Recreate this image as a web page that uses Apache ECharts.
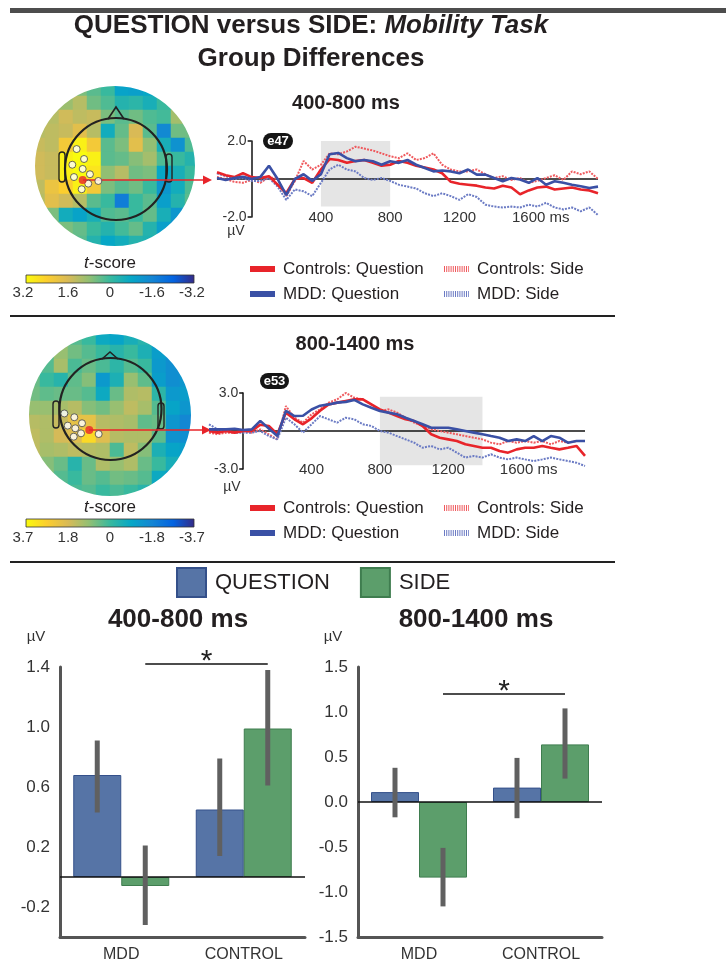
<!DOCTYPE html>
<html><head><meta charset="utf-8">
<script src="https://cdn.jsdelivr.net/npm/echarts@6/dist/echarts.min.js"></script>
<style>html,body{margin:0;padding:0;background:#fff;}#c{width:726px;height:964px;}</style>
</head><body><div id="c"></div>
<script>
// ---------------- DATA ----------------
const times = [-200,-150,-100,-50,0,50,100,150,200,250,300,350,400,450,500,550,600,650,700,750,800,850,900,950,1000,1050,1100,1150,1200,1250,1300,1350,1400,1450,1500,1550,1600,1650,1700,1750,1800,1850,1900,1950,2000];
const waveXTicks = [400, 800, 1200, 1600];
const seriesNames = ['Controls: Question', 'Controls: Side', 'MDD: Question', 'MDD: Side'];

// e47, 400-800 ms window
const w1CtrlQ = [0.35,0.2,0.1,0.3,0.1, 0.05,0.15,-0.3,-0.75,0.0, 0.05,-0.2,0.5,1.05,1.0, 0.85,0.95,1.0,0.85,0.7, 0.75,0.95,0.85,0.7,0.6, 0.5,0.3,-0.15,-0.25,-0.3, -0.35,-0.45,-0.5,-0.35,-0.45, -0.8,-0.6,-0.45,-0.4,-0.55, -0.5,-0.45,-0.55,-0.6,-0.75];
const w1CtrlS = [0.1,0.0,-0.15,-0.2,-0.05, -0.2,0.1,0.0,-0.9,-0.1, 0.95,0.5,0.75,1.35,1.3, 1.45,1.7,1.6,1.5,1.35, 1.2,1.1,1.35,1.0,1.1, 1.35,0.75,0.5,0.4,0.4, 0.5,0.25,0.05,0.15,-0.05, 0.05,-0.2,-0.1,0.05,0.2, -0.05,0.4,0.25,0.4,0.0];
const w1MddQ = [0.05,-0.05,0.05,0.12,0.0, 0.1,0.7,0.0,-0.85,0.0, 0.25,-0.1,0.25,1.3,1.37, 1.1,0.93,1.0,0.93,0.75, 0.93,0.85,1.0,0.75,0.58, 0.4,0.45,0.4,0.3,0.5, 0.23,0.23,0.05,-0.12,0.05, -0.03,-0.2,0.05,-0.3,-0.12, -0.2,-0.3,-0.38,-0.47,-0.4];
const w1MddS = [0.3,0.15,0.0,0.05,-0.1, -0.1,0.05,-0.4,-1.1,-0.55, -0.65,-0.9,-0.2,0.5,0.75, 0.5,0.4,0.05,-0.05,0.05, -0.1,-0.3,-0.4,-0.5,-0.75, -0.9,-0.75,-0.9,-1.1,-0.8, -0.95,-1.35,-1.45,-1.5,-1.45, -1.5,-1.35,-1.45,-1.25,-1.5, -1.6,-1.5,-1.7,-1.5,-1.9];

// e53, 800-1400 ms window
const w2CtrlQ = [0,-0.13,0,-0.13,0, 0,0.5,0.4,-0.26,1.45, 0.92,0.53,1.0,1.6,2.1, 2.24,2.37,2.5,2.5,2.1, 1.71,1.45,1.18,0.92,0.79, 0.39,-0.26,-0.53,-0.66,-0.79, -1.05,-1.18,-1.32,-1.32,-1.58, -1.71,-1.45,-1.32,-1.32,-1.18, -1.32,-1.45,-1.32,-1.18,-1.97];
const w2CtrlS = [-0.13,-0.26,-0.13,-0.13,0, -0.13,0.13,-0.26,-0.66,1.97, 1.05,0.66,1.32,1.71,2.24, 2.5,3.0,2.63,2.5,2.1, 1.58,1.71,1.45,1.05,0.66, 0.39,0.13,0,-0.13,-0.26, -0.4,-0.53,-0.66,-0.92,-1.05, -0.79,-0.92,-0.79,-0.92,-0.79, -1.05,-0.79,-0.92,-0.79,-0.79];
const w2MddQ = [0.13,0.13,0.13,0.18,0.08, 0.13,0.8,0.2,-0.4,1.6, 1.18,1.2,1.7,2.0,2.1, 2.24,2.3,2.45,2.1,1.84, 1.58,1.45,1.32,1.05,0.79, 0.53,0.26,0.26,0.26,0.13, 0.0,-0.13,-0.26,-0.4,-0.53, -0.79,-0.66,-0.79,-0.4,-0.79, -0.4,-0.53,-0.92,-0.79,-0.79];
const w2MddS = [0.53,0.13,0,-0.13,-0.13, -0.13,0,-0.4,-0.66,1.05, 0.53,-0.13,0.53,1.18,0.92, 0.66,1.05,0.92,0.53,0.4, 0,-0.13,-0.4,-0.66,-0.92, -1.32,-1.18,-1.45,-1.32,-1.71, -2.1,-1.97,-2.1,-1.84,-2.1, -2.24,-2.1,-2.24,-2.37,-2.24, -2.1,-2.24,-2.37,-2.5,-2.76];

// topographic t-score maps (12 x 12 cells, rows top -> bottom)
const map1 = [
 [0.3,0.3,0.5,0.6,0.3,0.0,-0.9,-1.0,-0.8,-0.3,0.2,0.3],
 [0.8,0.8,0.9,1.2,0.5,0.2,-0.3,-0.2,-0.5,0.0,0.6,0.5],
 [1.0,1.2,1.5,1.3,1.4,0.6,0.3,0.5,0.2,0.1,1.0,0.8],
 [1.2,1.3,1.4,1.8,1.2,-0.6,0.4,1.6,0.3,-1.5,0.5,0.5],
 [1.4,1.3,2.2,3.0,2.2,0.3,0.6,1.8,0.8,-0.5,-1.3,0.2],
 [1.5,1.4,3.0,3.2,3.0,0.3,0.4,0.7,1.0,0.2,0.0,-0.3],
 [1.5,1.4,3.0,3.2,2.8,0.8,1.2,0.5,0.6,-0.8,-0.5,0.0],
 [1.3,2.0,2.4,3.0,2.2,0.6,0.3,0.5,0.0,-1.2,-0.6,0.2],
 [1.2,1.8,1.5,1.2,0.3,0.0,-1.8,0.0,0.3,-1.0,-0.3,0.3],
 [0.8,0.6,-0.6,-0.9,-0.5,0.2,0.3,0.0,0.4,-0.5,-1.2,-0.8],
 [0.5,0.4,0.6,0.4,0.0,-0.3,0.1,0.4,-0.3,-1.0,-1.4,-1.0],
 [0.4,0.4,0.2,0.3,-0.3,-0.8,-0.6,-0.3,-0.4,-1.2,-1.2,-1.0]
];
const map2 = [
 [0.3,0.3,0.4,0.3,0.0,-0.8,-1.0,-0.6,-0.3,-0.8,-1.0,-0.8],
 [0.5,0.4,1.0,0.6,0.3,0.0,-0.3,0.0,-0.5,-1.2,-1.5,-1.2],
 [0.4,0.3,1.2,0.2,0.5,0.2,-0.2,0.3,0.0,-1.3,-1.6,-1.5],
 [0.5,0.0,-0.3,0.4,0.8,-1.3,-0.5,1.0,0.4,-1.2,-1.6,-1.4],
 [0.6,0.4,0.5,0.5,0.3,-0.8,0.5,1.3,1.4,-0.2,-1.3,-1.2],
 [1.0,1.0,1.2,1.4,0.8,0.6,1.0,1.5,1.2,0.3,-1.0,-1.4],
 [1.4,1.3,1.6,2.2,2.2,1.4,1.3,1.2,0.4,0.5,-1.4,-1.8],
 [1.5,1.3,1.8,2.0,3.0,2.0,1.4,1.3,1.3,0.4,-1.5,-1.6],
 [1.5,1.2,1.3,1.5,1.4,1.3,0.2,1.5,0.8,-0.5,-1.0,-1.2],
 [1.2,0.8,0.5,-0.3,0.5,1.3,1.0,1.3,0.5,0.0,-0.6,-1.0],
 [1.0,0.8,0.3,0.0,0.5,0.3,0.6,0.5,0.3,-0.8,-1.2,-1.3],
 [0.8,0.6,0.3,0.2,0.3,0.0,0.2,0.0,-0.3,-1.0,-1.2,-1.0]
];
// electrode cluster positions (cell units) and the plotted electrode
const elec1 = [[3.26,4.79],[3.79,5.5],[2.95,5.91],[3.69,6.21],[4.21,6.59],[3.07,6.79],[4.09,7.26],[4.81,7.07],[3.62,7.66]];
const mark1 = [[3.69,7.0]];
const elec2 = [[2.74,5.89],[3.45,6.16],[2.98,6.76],[3.52,6.95],[4.0,6.59],[3.93,7.31],[3.41,7.55],[5.19,7.36]];
const mark2 = [[4.52,7.07]];
const cbTicks1 = ['3.2','1.6','0','-1.6','-3.2'];
const cbTicks2 = ['3.7','1.8','0','-1.8','-3.7'];

// bar charts
const groups = ['MDD', 'CONTROL'];
const b1Question = [0.68, 0.45];
const b1Side = [-0.06, 0.99];
const b1QLow = [0.43, 0.14], b1QHigh = [0.91, 0.79];
const b1SLow = [-0.32, 0.61], b1SHigh = [0.21, 1.38];
const b1Ticks = [-0.2, 0.2, 0.6, 1.0, 1.4];
const b1Sig = 1.42;
const b2Question = [0.11, 0.16];
const b2Side = [-0.84, 0.64];
const b2QLow = [-0.17, -0.18], b2QHigh = [0.38, 0.49];
const b2SLow = [-1.16, 0.26], b2SHigh = [-0.51, 1.04];
const b2Sig = 1.2;

// ---------------- STYLE ----------------
const FF = "'Liberation Sans', Arial, Helvetica, sans-serif";
const INK = '#231f20';
const RED = '#e8242a', BLUE = '#3a50a5', RED_D = '#ef5a5e', BLUE_D = '#6b7bc4';
const QCOL = '#5674a6', SCOL = '#5c9e6b';
const parula = ['#352a87','#0363e1','#1485d4','#06a7c6','#38b99e','#92bf73','#d9ba56','#fcce2e','#f9fb0e'];
const BAR_W = 48;

function heatData(m) {
  const d = [];
  m.forEach((row, r) => row.forEach((v, c) => d.push([c, r, v])));
  return d;
}
const idx12 = Array.from({length: 12}, (_, i) => i);

function txt(x, y, text, size, extra) {
  return {type: 'text', z: 20, silent: true,
    style: Object.assign({x, y, text, fontSize: size, fontFamily: FF, fill: INK, align: 'center', verticalAlign: 'middle'}, extra || {})};
}

// ---------- grids / axes ----------
const W1 = {left: 217, top: 141, width: 381, height: 76};
const W2 = {left: 209, top: 393, width: 376, height: 76};
const T0 = -200, T1 = 2000;
const grids = [
  {left: 31, top: 82, width: 168, height: 168},
  {left: 31, top: 82, width: 168, height: 168},
  {left: 26, top: 331, width: 168, height: 168},
  {left: 26, top: 331, width: 168, height: 168},
  W1, W2,
  {left: 60, top: 667, width: 245, height: 270},
  {left: 358, top: 667, width: 244, height: 270}
];
function waveX(g) {
  return {type: 'value', gridIndex: g, min: T0, max: T1, z: 10,
    axisLine: {show: false, onZero: false}, axisTick: {show: false}, splitLine: {show: false},
    axisLabel: {customValues: waveXTicks, margin: -7, fontSize: 15, color: '#333', fontFamily: FF,
      formatter: v => v === 1600 ? '{p|}1600 ms' : String(v), rich: {p: {width: 24}}}};
}
function waveY(g, lim, gr) {
  // place the vertical axis at t = 0 ms
  const off = -(gr.width * (0 - T0) / (T1 - T0));
  return {type: 'value', gridIndex: g, min: -lim, max: lim, z: 10, position: 'left', offset: off,
    axisLine: {show: true, onZero: false, lineStyle: {color: '#111', width: 1.5}},
    axisTick: {show: true, length: 4, customValues: [-lim, lim], lineStyle: {color: '#111', width: 1.5}},
    splitLine: {show: false},
    axisLabel: {customValues: [-lim, lim], formatter: v => v.toFixed(1), fontSize: 14, color: '#333', margin: 5, fontFamily: FF}};
}
function barX(g) {
  return {type: 'category', gridIndex: g, data: groups,
    axisLine: {onZero: false, lineStyle: {color: '#555', width: 3}}, axisTick: {show: false},
    axisLabel: {fontSize: 16, color: '#333', margin: 10, fontFamily: FF}};
}
function barY(g, min, max, extra) {
  return Object.assign({type: 'value', gridIndex: g, min, max,
    axisLine: {show: true, lineStyle: {color: '#555', width: 3}}, axisTick: {show: false}, splitLine: {show: false},
    axisLabel: {formatter: v => v.toFixed(1), fontSize: 17, color: '#333', margin: 10, fontFamily: FF}}, extra || {});
}

const xAxes = [
  {type: 'category', gridIndex: 0, data: idx12, show: false},
  {type: 'value', gridIndex: 1, min: 0, max: 12, show: false},
  {type: 'category', gridIndex: 2, data: idx12, show: false},
  {type: 'value', gridIndex: 3, min: 0, max: 12, show: false},
  waveX(4), waveX(5), barX(6), barX(7)
];
const b1Y = barY(6, -0.4, 1.4);
b1Y.axisLabel.customValues = b1Ticks;
const yAxes = [
  {type: 'category', gridIndex: 0, data: idx12, inverse: true, show: false},
  {type: 'value', gridIndex: 1, min: 0, max: 12, inverse: true, show: false},
  {type: 'category', gridIndex: 2, data: idx12, inverse: true, show: false},
  {type: 'value', gridIndex: 3, min: 0, max: 12, inverse: true, show: false},
  waveY(4, 2, W1), waveY(5, 3, W2), b1Y, barY(7, -1.5, 1.5, {interval: 0.5})
];

// ---------- series ----------
function elecSeries(ax, data) {
  return {type: 'scatter', xAxisIndex: ax, yAxisIndex: ax, data, symbolSize: 7, z: 8, silent: true,
    itemStyle: {color: '#fff', borderColor: '#444', borderWidth: 1}};
}
function markSeries(ax, data) {
  return {type: 'scatter', xAxisIndex: ax, yAxisIndex: ax, data, symbolSize: 8, z: 9, silent: true,
    itemStyle: {color: RED}};
}
function waveLine(ax, name, arr, color, width, dash) {
  return {type: 'line', name, xAxisIndex: ax, yAxisIndex: ax, data: times.map((t, i) => [t, arr[i]]),
    symbol: 'none', showSymbol: false, z: 10, silent: true,
    lineStyle: {color, width, type: dash || 'solid'}};
}
function waveBox(ax, x0, x1, yTop, yBot) {
  return {type: 'line', xAxisIndex: ax, yAxisIndex: ax, data: [[0, 0]], symbol: 'none', z: 2, silent: true,
    lineStyle: {opacity: 0},
    markArea: {silent: true, itemStyle: {color: '#e5e5e5'}, data: [[{xAxis: x0, yAxis: yTop}, {xAxis: x1, yAxis: yBot}]]}};
}
function waveZero(ax) {
  return {type: 'line', xAxisIndex: ax, yAxisIndex: ax, data: [[0, 0]], symbol: 'none', z: 9, silent: true,
    lineStyle: {opacity: 0},
    markLine: {silent: true, symbol: 'none', label: {show: false}, lineStyle: {color: '#111', width: 1.5, type: 'solid'}, data: [{yAxis: 0}]}};
}
function barSeries(ax, name, vals, color, border, zeroLine) {
  const s = {type: 'bar', name, xAxisIndex: ax, yAxisIndex: ax, data: vals, barWidth: BAR_W, barGap: '0%', z: 4, silent: true,
    itemStyle: {color, borderColor: border, borderWidth: 1}};
  if (zeroLine) s.markLine = {silent: true, symbol: 'none', label: {show: false}, lineStyle: {color: '#111', width: 1.5, type: 'solid'}, data: [{yAxis: 0}]};
  return s;
}
function errSeries(ax, qLo, qHi, sLo, sHi) {
  const data = [];
  for (let i = 0; i < groups.length; i++) {
    data.push([i, qLo[i], qHi[i], -1]);
    data.push([i, sLo[i], sHi[i], 1]);
  }
  return {type: 'custom', xAxisIndex: ax, yAxisIndex: ax, data, z: 6, silent: true, encode: {x: 0, y: [1, 2]},
    renderItem: (p, api) => {
      const a = api.coord([api.value(0), api.value(1)]);
      const b = api.coord([api.value(0), api.value(2)]);
      const dx = api.value(3) * BAR_W / 2;
      return {type: 'line', shape: {x1: a[0] + dx, y1: a[1], x2: a[0] + dx, y2: b[1]},
        style: {stroke: '#606060', lineWidth: 5}};
    }};
}
function sigSeries(ax, level) {
  return {type: 'custom', xAxisIndex: ax, yAxisIndex: ax, data: [[0, 1, level]], z: 6, silent: true, encode: {x: [0, 1], y: 2},
    renderItem: (p, api) => {
      const a = api.coord([api.value(0), api.value(2)]);
      const b = api.coord([api.value(1), api.value(2)]);
      const x1 = a[0] + BAR_W / 2, x2 = b[0] + BAR_W / 2;
      return {type: 'group', children: [
        {type: 'line', shape: {x1, y1: a[1], x2, y2: a[1]}, style: {stroke: '#111', lineWidth: 1.5}},
        {type: 'text', style: {text: '*', x: (x1 + x2) / 2, y: a[1] - 2, fontSize: 30, fontFamily: FF, fill: '#222', align: 'center', verticalAlign: 'middle'}}
      ]};
    }};
}

const series = [
  {type: 'heatmap', xAxisIndex: 0, yAxisIndex: 0, data: heatData(map1), z: 1, silent: true, itemStyle: {borderWidth: 0}},
  elecSeries(1, elec1), markSeries(1, mark1),
  {type: 'heatmap', xAxisIndex: 2, yAxisIndex: 2, data: heatData(map2), z: 1, silent: true, itemStyle: {borderWidth: 0}},
  elecSeries(3, elec2), markSeries(3, mark2),
  waveBox(4, 400, 800, 2.0, -1.45), waveZero(4),
  waveLine(4, seriesNames[1], w1CtrlS, RED_D, 2, [2, 1.2]),
  waveLine(4, seriesNames[3], w1MddS, BLUE_D, 2, [2, 1.2]),
  waveLine(4, seriesNames[0], w1CtrlQ, RED, 2.6),
  waveLine(4, seriesNames[2], w1MddQ, BLUE, 2.6),
  waveBox(5, 800, 1400, 2.7, -2.7), waveZero(5),
  waveLine(5, seriesNames[1], w2CtrlS, RED_D, 2, [2, 1.2]),
  waveLine(5, seriesNames[3], w2MddS, BLUE_D, 2, [2, 1.2]),
  waveLine(5, seriesNames[0], w2CtrlQ, RED, 2.6),
  waveLine(5, seriesNames[2], w2MddQ, BLUE, 2.6),
  barSeries(6, 'QUESTION', b1Question, QCOL, '#34508a', true),
  barSeries(6, 'SIDE', b1Side, SCOL, '#3f7d4f'),
  errSeries(6, b1QLow, b1QHigh, b1SLow, b1SHigh), sigSeries(6, b1Sig),
  barSeries(7, 'QUESTION', b2Question, QCOL, '#34508a', true),
  barSeries(7, 'SIDE', b2Side, SCOL, '#3f7d4f'),
  errSeries(7, b2QLow, b2QHigh, b2SLow, b2SHigh), sigSeries(7, b2Sig)
];

// ---------- decorations ----------
function head(cx, cy, r, nose, earL, earR) {
  return [
    {type: 'circle', z: 7, silent: true, shape: {cx, cy, r}, style: {fill: 'none', stroke: '#222', lineWidth: 2.2}},
    {type: 'polyline', z: 7, silent: true, shape: {points: nose}, style: {fill: 'none', stroke: '#222', lineWidth: 1.6}},
    {type: 'rect', z: 7, silent: true, shape: Object.assign({r: 3}, earL), style: {fill: 'none', stroke: '#222', lineWidth: 1.4}},
    {type: 'rect', z: 7, silent: true, shape: Object.assign({r: 3}, earR), style: {fill: 'none', stroke: '#222', lineWidth: 1.4}}
  ];
}
function arrow(x0, y, x1) {
  return [
    {type: 'line', z: 8, silent: true, shape: {x1: x0, y1: y, x2: x1, y2: y}, style: {stroke: RED, lineWidth: 1.5}},
    {type: 'polygon', z: 8, silent: true, shape: {points: [[x1 - 1, y - 4.5], [x1 + 8, y], [x1 - 1, y + 4.5]]}, style: {fill: RED}}
  ];
}
function colorbar(x, y, w, labels, ly) {
  const stops = parula.slice().reverse().map((c, i, a) => ({offset: i / (a.length - 1), color: c}));
  const els = [
    {type: 'rect', z: 20, silent: true, shape: {x, y, width: w, height: 8},
      style: {fill: new echarts.graphic.LinearGradient(0, 0, 1, 0, stops), stroke: '#333', lineWidth: 0.8}}
  ];
  labels.forEach((l, i) => els.push(txt(x + w * i / (labels.length - 1) - (i === 0 ? 3 : 0) - (i === labels.length - 1 ? 2 : 0), ly, l, 15, {fill: '#333'})));
  return els;
}
function tscore(x, y) {
  return {type: 'text', z: 20, silent: true, style: {x, y, text: '{i|t}{n|-score}', align: 'center', verticalAlign: 'middle',
    rich: {i: {fontSize: 17, fontStyle: 'italic', fontFamily: FF, fill: INK}, n: {fontSize: 17, fontFamily: FF, fill: INK}}}};
}
function badge(x, y, w, label) {
  return [
    {type: 'rect', z: 20, silent: true, shape: {x, y, width: w, height: 16, r: 8}, style: {fill: '#151515'}},
    txt(x + w / 2, y + 8.5, label, 13, {fill: '#fff', fontWeight: 'bold'})
  ];
}
function waveLegend(y1, y2) {
  const items = [
    {x: 250, y: y1, c: RED, dash: false, t: seriesNames[0]},
    {x: 444, y: y1, c: RED_D, dash: true, t: seriesNames[1]},
    {x: 250, y: y2, c: BLUE, dash: false, t: seriesNames[2]},
    {x: 444, y: y2, c: BLUE_D, dash: true, t: seriesNames[3]}
  ];
  const els = [];
  items.forEach(it => {
    if (it.dash) {
      els.push({type: 'line', z: 20, silent: true, shape: {x1: it.x, y1: it.y, x2: it.x + 25, y2: it.y},
        style: {stroke: it.c, lineWidth: 6, lineDash: [1, 1.2]}});
    } else {
      els.push({type: 'rect', z: 20, silent: true, shape: {x: it.x, y: it.y - 3, width: 25, height: 6}, style: {fill: it.c}});
    }
    els.push(txt(it.x + 33, it.y, it.t, 17, {align: 'left'}));
  });
  return els;
}

const graphics = [].concat(
  [{type: 'rect', z: 20, silent: true, shape: {x: 10, y: 8, width: 716, height: 5}, style: {fill: '#4d4d4d'}}],
  [{type: 'text', z: 20, silent: true, style: {x: 311, y: 26, text: '{a|QUESTION versus SIDE: }{b|Mobility Task}', align: 'center', verticalAlign: 'middle',
    rich: {a: {fontSize: 26, fontWeight: 'bold', fontFamily: FF, fill: INK}, b: {fontSize: 26, fontWeight: 'bold', fontStyle: 'italic', fontFamily: FF, fill: INK}}}}],
  [txt(311, 59, 'Group Differences', 26, {fontWeight: 'bold'})],
  // topomap masks
  [{type: 'ring', z: 3, silent: true, shape: {cx: 115, cy: 166, r: 124, r0: 80}, style: {fill: '#fff'}},
   {type: 'ring', z: 3, silent: true, shape: {cx: 110, cy: 415, r: 124, r0: 81}, style: {fill: '#fff'}}],
  head(116, 169, 51, [[108, 119], [116, 107], [124, 119]], {x: 59, y: 152, width: 6, height: 30}, {x: 166, y: 154, width: 6, height: 28}),
  head(110.5, 409, 51, [[102, 359], [110, 352], [118, 359]], {x: 53, y: 401, width: 6, height: 27}, {x: 158, y: 403, width: 6, height: 26}),
  arrow(83, 180, 204), arrow(89, 430, 203),
  colorbar(26, 275, 168, cbTicks1, 293), colorbar(26, 519, 168, cbTicks2, 538),
  [tscore(110, 263), tscore(110, 507)],
  [txt(346, 103, '400-800 ms', 20, {fontWeight: 'bold'}), txt(355, 344, '800-1400 ms', 20, {fontWeight: 'bold'})],
  badge(263, 133, 30, 'e47'), badge(260, 373, 29, 'e53'),
  [txt(236, 231, 'µV', 14, {fill: '#333'}), txt(232, 487, 'µV', 14, {fill: '#333'})],
  waveLegend(269, 294), waveLegend(508, 533),
  [{type: 'line', z: 20, silent: true, shape: {x1: 10, y1: 316, x2: 615, y2: 316}, style: {stroke: '#222', lineWidth: 2}},
   {type: 'line', z: 20, silent: true, shape: {x1: 10, y1: 562, x2: 615, y2: 562}, style: {stroke: '#222', lineWidth: 2}}],
  [txt(178, 620, '400-800 ms', 26, {fontWeight: 'bold'}), txt(476, 620, '800-1400 ms', 26, {fontWeight: 'bold'})],
  [txt(36, 637, 'µV', 15, {fill: '#333'}), txt(333, 637, 'µV', 15, {fill: '#333'})]
);

const option = {
  animation: false,
  backgroundColor: '#fff',
  textStyle: {fontFamily: FF},
  grid: grids,
  xAxis: xAxes,
  yAxis: yAxes,
  visualMap: [
    {type: 'continuous', show: false, seriesIndex: 0, dimension: 2, min: -3.2, max: 3.2, inRange: {color: parula}},
    {type: 'continuous', show: false, seriesIndex: 3, dimension: 2, min: -3.7, max: 3.7, inRange: {color: parula}}
  ],
  legend: {data: ['QUESTION', 'SIDE'], left: 176, top: 567, padding: 0, itemWidth: 29, itemHeight: 29, itemGap: 30, icon: 'rect',
    selectedMode: false, textStyle: {fontSize: 22, color: INK, fontFamily: FF, padding: [0, 0, 0, 4]}},
  series,
  graphic: {elements: graphics}
};
const chart = echarts.init(document.getElementById('c'));
chart.setOption(option);
</script>
</body></html>
